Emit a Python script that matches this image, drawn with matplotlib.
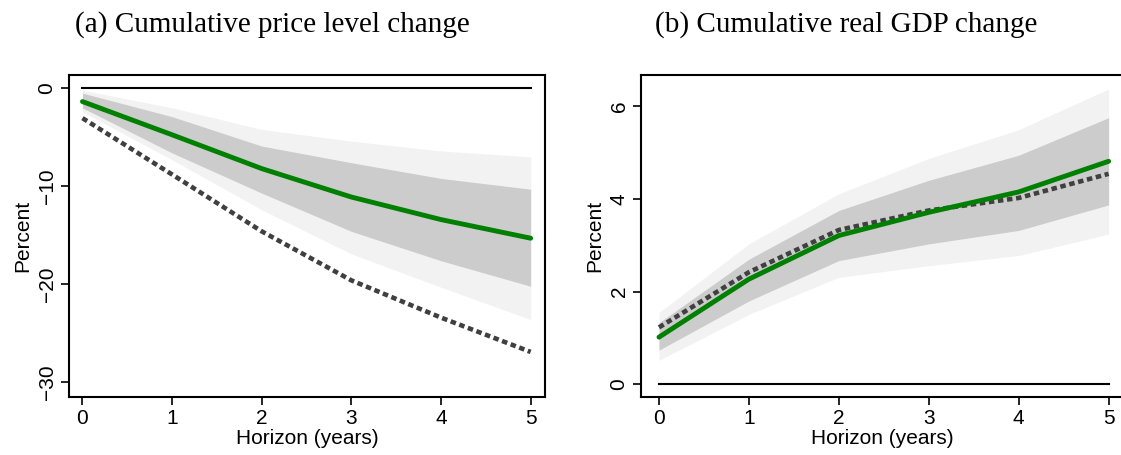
import matplotlib.pyplot as plt
import numpy as np

# horizon in years
horizon = [0, 1, 2, 3, 4, 5]

# (a) cumulative price level change
price_main = [-1.36, -4.75, -8.2, -11.1, -13.4, -15.3]
price_alt = [-3.05, -8.8, -14.6, -19.6, -23.4, -26.9]
price_in_hi = [-0.5, -2.9, -5.9, -7.6, -9.2, -10.3]
price_in_lo = [-2.0, -6.6, -10.7, -14.6, -17.6, -20.2]
price_out_hi = [-0.2, -2.0, -4.2, -5.4, -6.4, -7.0]
price_out_lo = [-2.4, -7.3, -12.4, -16.9, -20.3, -23.6]

# (b) cumulative real GDP change
gdp_main = [1.02, 2.27, 3.21, 3.71, 4.15, 4.81]
gdp_alt = [1.23, 2.42, 3.33, 3.75, 4.02, 4.54]
gdp_in_hi = [1.33, 2.70, 3.75, 4.40, 4.94, 5.75]
gdp_in_lo = [0.74, 1.80, 2.67, 3.03, 3.32, 3.87]
gdp_out_hi = [1.55, 3.03, 4.11, 4.87, 5.49, 6.37]
gdp_out_lo = [0.52, 1.51, 2.31, 2.56, 2.78, 3.24]

plt.rcParams['font.family'] = ['Liberation Sans', 'DejaVu Sans']

fig = plt.figure(figsize=(11.21, 4.55), dpi=100)
ax1 = fig.add_axes([69 / 1121, 1 - 397 / 455, 476 / 1121, 322 / 455])
ax2 = fig.add_axes([641 / 1121, 1 - 397 / 455, 482 / 1121, 322 / 455])


def panel(ax, main, alt, in_hi, in_lo, out_hi, out_lo, yticks, ylim):
    ax.fill_between(horizon, out_lo, out_hi, color='#f2f2f2', lw=0)
    ax.fill_between(horizon, in_lo, in_hi, color='#cccccc', lw=0)
    ax.plot([0, 5], [0, 0], color='black', lw=1.5)
    ax.plot(horizon, alt, color='#404040', lw=3.3, linestyle=(0, (1.2, 0.8)),
            dash_capstyle='butt')
    ax.plot(horizon, main, color='green', lw=3.5, solid_capstyle='round')
    ax.set_xlim(-0.15, 5.16)
    ax.set_ylim(*ylim)
    ax.set_xticks(horizon)
    ax.set_yticks(yticks)
    ax.tick_params(direction='out', length=6, width=1.2, labelsize=15,
                   colors='black', pad=3)
    for lab in ax.get_yticklabels():
        lab.set_rotation(90)
        lab.set_va('center')
    for s in ax.spines.values():
        s.set_linewidth(1.5)
    ax.set_xlabel('Horizon (years)', fontsize=15, labelpad=0)
    ax.set_ylabel('Percent', fontsize=15, labelpad=4)


panel(ax1, price_main, price_alt, price_in_hi, price_in_lo, price_out_hi,
      price_out_lo, [0, -10, -20, -30], (-31.5, 1.35))
panel(ax2, gdp_main, gdp_alt, gdp_in_hi, gdp_in_lo, gdp_out_hi, gdp_out_lo,
      [0, 2, 4, 6], (-0.27, 6.67))
ax2.set_xlim(-0.2, 5.16)

fig.text(75 / 1121, 1 - 25 / 455, '(a) Cumulative price level change',
         fontsize=21, family='Liberation Serif', va='center', ha='left')
fig.text(655 / 1121, 1 - 25 / 455, '(b) Cumulative real GDP change',
         fontsize=21, family='Liberation Serif', va='center', ha='left')

fig.savefig('out.png', dpi=100)
